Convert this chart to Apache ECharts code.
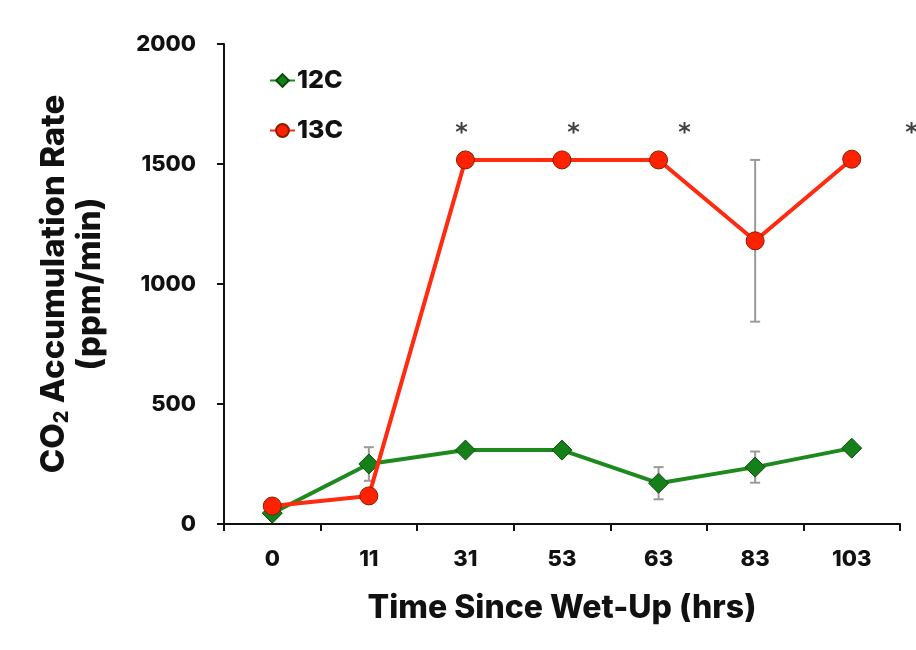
<!DOCTYPE html>
<html>
<head>
<meta charset="utf-8">
<script src="https://cdn.jsdelivr.net/npm/echarts@6/dist/echarts.min.js"></script>
<style>
  html, body { margin: 0; padding: 0; background: #fff; }
  #chart { width: 916px; height: 650px; }
</style>
</head>
<body>
<div id="chart"></div>
<script>
// categories (hours since wet-up)
var hours = ['0', '11', '31', '53', '63', '83', '103'];

// CO2 accumulation rate, ppm/min
var c12 = [45, 250, 308, 308, 170, 237, 316];
var c13 = [75, 117, 1517, 1517, 1517, 1180, 1520];

// error bar half-widths
var c12Err = [0, 70, 0, 0, 67, 65, 0];
var c13Err = [0, 0, 0, 0, 0, 337, 0];

// significance stars: x in category-index space, y in ppm/min
var starX = [2.46, 3.62, 4.77, 7.12];
var starY = [1625, 1625, 1625, 1625];

var font = 'Inter';
var chart = echarts.init(document.getElementById('chart'));

function errData(vals, errs) {
    var out = [];
    for (var i = 0; i < vals.length; i++) {
        if (errs[i] > 0) out.push([i, vals[i] - errs[i], vals[i] + errs[i]]);
    }
    return out;
}

function renderErr(params, api) {
    var x = api.value(0);
    var lo = api.coord([x, api.value(1)]);
    var hi = api.coord([x, api.value(2)]);
    var w = 5;
    var st = { stroke: '#9a9a9a', lineWidth: 2 };
    return {
        type: 'group',
        children: [
            { type: 'line', shape: { x1: lo[0], y1: lo[1], x2: hi[0], y2: hi[1] }, style: st },
            { type: 'line', shape: { x1: lo[0] - w, y1: lo[1], x2: lo[0] + w, y2: lo[1] }, style: st },
            { type: 'line', shape: { x1: hi[0] - w, y1: hi[1], x2: hi[0] + w, y2: hi[1] }, style: st }
        ]
    };
}

var stars = starX.map(function (x, i) { return [x, starY[i]]; });

chart.setOption({
    animation: false,
    grid: { left: 224, right: 16, top: 44, bottom: 126 },
    legend: {
        orient: 'vertical',
        left: 264,
        top: 63,
        itemGap: 25,
        itemWidth: 25,
        itemHeight: 16,
        data: ['12C', '13C'],
        textStyle: { fontFamily: font, fontWeight: 800, fontSize: 25, color: '#111', padding: [0, 0, 0, -3] }
    },
    xAxis: [{
        type: 'category',
        data: hours,
        boundaryGap: true,
        name: 'Time Since Wet-Up (hrs)',
        nameLocation: 'middle',
        nameGap: 68,
        nameTextStyle: { fontFamily: font, fontWeight: 800, fontSize: 32, color: '#111' },
        axisLine: { lineStyle: { color: '#111', width: 2 } },
        axisTick: { show: true, length: 7, lineStyle: { color: '#111', width: 2 } },
        axisLabel: { margin: 24, fontFamily: font, fontWeight: 800, fontSize: 22, color: '#111' }
    }, {
        type: 'value',
        min: 0,
        max: 7,
        show: false
    }],
    yAxis: {
        type: 'value',
        min: 0,
        max: 2000,
        interval: 500,
        name: 'CO{sub|2} Accumulation Rate\n(ppm/min)',
        nameLocation: 'middle',
        nameGap: 116,
        nameRotate: 90,
        nameTextStyle: {
            fontFamily: font, fontWeight: 800, fontSize: 33, color: '#111', lineHeight: 36,
            rich: { sub: { fontFamily: font, fontWeight: 800, fontSize: 20, color: '#111', verticalAlign: 'bottom', padding: [14, 0, 0, 0] } }
        },
        splitLine: { show: false },
        axisLine: { show: true, lineStyle: { color: '#111', width: 2 } },
        axisTick: { show: true, length: 7, lineStyle: { color: '#111', width: 2 } },
        axisLabel: {
            margin: 28, fontFamily: font, fontWeight: 800, fontSize: 22, color: '#111',
            formatter: function (v) { return String(v); }
        }
    },
    series: [{
        name: 'err12',
        type: 'custom',
        xAxisIndex: 0,
        renderItem: renderErr,
        data: errData(c12, c12Err),
        z: 1
    }, {
        name: 'err13',
        type: 'custom',
        xAxisIndex: 0,
        renderItem: renderErr,
        data: errData(c13, c13Err),
        z: 1
    }, {
        name: '12C',
        type: 'line',
        data: c12,
        symbol: 'diamond',
        symbolSize: 20,
        lineStyle: { color: '#1e8a1e', width: 4 },
        itemStyle: { color: '#15801a', borderColor: '#0b4a0b', borderWidth: 1 },
        z: 3
    }, {
        name: '13C',
        type: 'line',
        data: c13,
        symbol: 'circle',
        symbolSize: 18,
        lineStyle: { color: '#ff2a10', width: 4 },
        itemStyle: { color: '#ff2200', borderColor: '#8a1a00', borderWidth: 1 },
        z: 4
    }, {
        name: 'stars',
        type: 'scatter',
        xAxisIndex: 1,
        data: stars,
        symbolSize: 0,
        clip: false,
        silent: true,
        label: {
            show: true,
            position: 'inside',
            formatter: '*',
            fontFamily: 'DejaVu Sans',
            fontWeight: 'bold',
            fontSize: 24,
            color: '#111'
        }
    }]
});
</script>
</body>
</html>
